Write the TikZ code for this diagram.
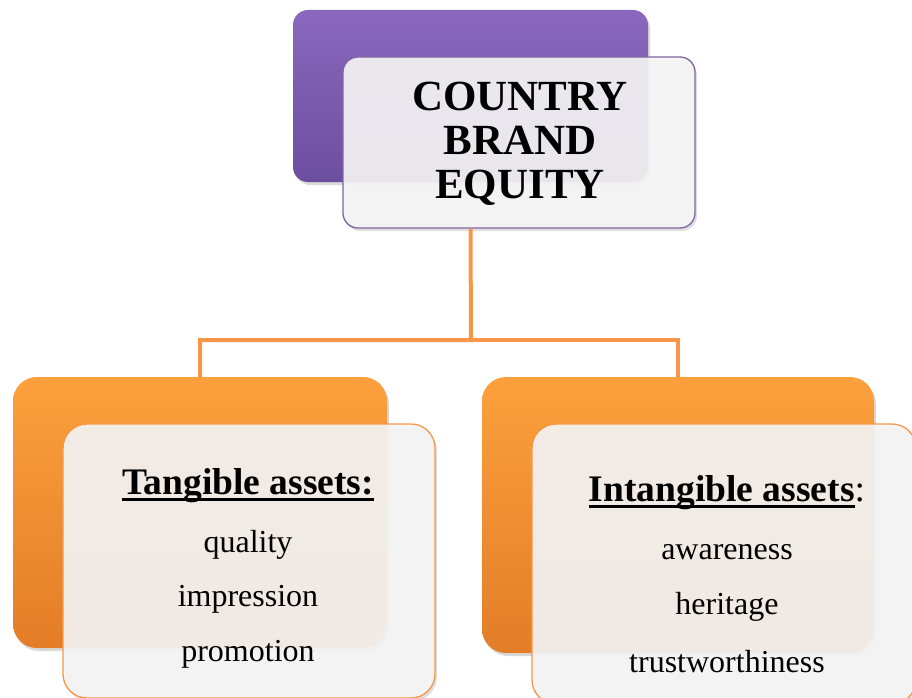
\documentclass[tikz,border=0pt]{standalone}
\usepackage{fontspec}
\setmainfont{Liberation Serif}
\usetikzlibrary{shadows}
\newcommand\myul[1]{\setbox0=\hbox{#1}\rlap{\vrule height -3.5pt depth 6pt width \wd0}\box0}
\definecolor{purpT}{HTML}{8B68BE}
\definecolor{purpB}{HTML}{6C4E9F}
\definecolor{purpLine}{HTML}{8064A2}
\definecolor{orT}{HTML}{FCA03C}
\definecolor{orB}{HTML}{E37D28}
\definecolor{orLine}{HTML}{F79646}
\definecolor{paneFill}{HTML}{F5F5F5}
\tikzset{
  backbox/.style={rectangle, inner sep=0pt, draw=none,
    drop shadow={shadow xshift=2pt, shadow yshift=-3pt, opacity=0.3}},
  purpbox/.style={backbox, rounded corners=15pt, top color=purpT, bottom color=purpB},
  orbox/.style={backbox, rounded corners=24pt, top color=orT, bottom color=orB},
  pane/.style={rectangle, inner sep=0pt, fill=paneFill, fill opacity=0.91, line width=1.3pt,
    drop shadow={shadow xshift=2pt, shadow yshift=-3pt, opacity=0.25}},
  toppane/.style={pane, draw=purpLine, rounded corners=15pt},
  lowpane/.style={pane, draw=orLine, rounded corners=24pt},
  conn/.style={draw=orLine, line width=4pt},
  item/.style={font=\fontsize{32}{32}\selectfont, inner sep=0pt},
  head/.style={font=\fontsize{37.5}{37.5}\selectfont\bfseries, inner sep=0pt},
}
\begin{document}
\begin{tikzpicture}[x=1pt,y=-1pt]
\useasboundingbox (0,0) rectangle (912,698);
\node[purpbox, minimum width=355pt, minimum height=172pt] (purple) at (470.5,96) {};
\node[toppane, minimum width=352pt, minimum height=171pt] (topw) at (519,142.5) {};
\node[font=\fontsize{43}{44}\selectfont\bfseries, align=center, inner sep=0pt] (title) at (520,143.5) {COUNTRY\\BRAND\\EQUITY};

\node[orbox, minimum width=374pt, minimum height=271pt] (lo) at (200,512.5) {};
\node[orbox, minimum width=392pt, minimum height=276pt] (ro) at (678,515) {};
\node[lowpane, minimum width=372pt, minimum height=274pt] (lw) at (249,561) {};
\node[lowpane, minimum width=384pt, minimum height=280pt] (rw) at (724,564) {};

\coordinate (j) at (471,340);
\draw[conn] (purple.south |- topw.south) -- (j) -| (lo.north);
\draw[conn] (j) -| (ro.north);

\node[head] (lh) at (248,486) {\myul{Tangible assets:}};
\node[item] (l1) at (248,545) {quality};
\node[item] (l2) at (248,599) {impression};
\node[item] (l3) at (248,654) {promotion};

\node[head] (rh) at (727,493) {\myul{Intangible assets}\mdseries:};
\node[item] (r1) at (727,552) {awareness};
\node[item] (r2) at (727,607) {heritage};
\node[item] (r3) at (727,662) {trustworthiness};
\end{tikzpicture}
\end{document}
